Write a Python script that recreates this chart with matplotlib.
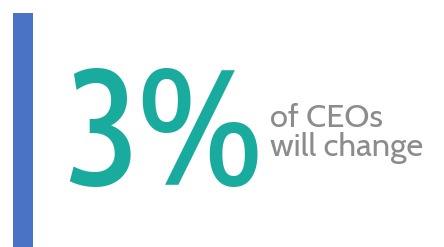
import matplotlib.pyplot as plt
from matplotlib.patches import Rectangle

# Stat shown on the card
value = 3
caption = ["of CEOs", "will change"]

W, H = 444, 247
fig = plt.figure(figsize=(W / 100, H / 100), dpi=100)
ax = fig.add_axes([0, 0, 1, 1])
ax.set_xlim(0, W)
ax.set_ylim(H, 0)
ax.axis("off")

# blue accent bar on the left
ax.add_patch(Rectangle((13, 13), 20, 240, color="#4a72c6", lw=0))

ax.text(64, 185, f"{value}%", fontsize=118, family="Cabin Condensed",
        color="#1aab9f", ha="left", va="baseline")
ax.text(270, 127, caption[0], fontsize=23.5, family="Cabin", color="#8c8c8c",
        ha="left", va="baseline")
ax.text(270, 156, caption[1], fontsize=23.5, family="Cabin", color="#8c8c8c",
        ha="left", va="baseline")

fig.savefig("out.png", dpi=100)
